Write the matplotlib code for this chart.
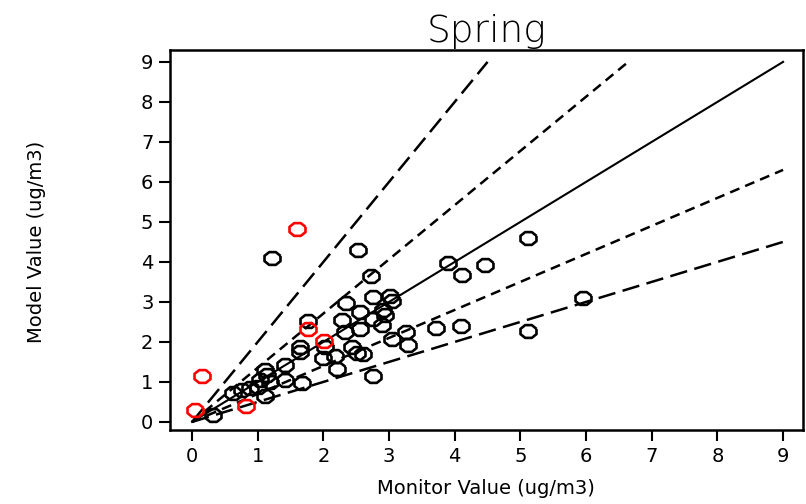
# Spring: model vs monitor scatter with ratio lines
import numpy as np
import matplotlib
matplotlib.use("Agg")
from matplotlib import pyplot as plt

# black points (monitor, model)
mon_black = [1.22, 2.53, 5.11, 3.90, 4.46, 4.11, 2.72, 2.75, 3.02, 3.04, 2.35, 2.56,
             2.91, 2.94, 2.76, 2.28, 2.89, 2.56, 2.33, 1.77, 5.95, 5.11, 3.72, 4.09,
             3.26, 3.04, 3.29, 2.02, 2.00, 2.18, 2.43, 2.51, 2.61, 2.20, 2.75, 1.64,
             1.64, 1.67, 1.42, 1.11, 1.14, 1.04, 1.19, 1.42, 1.01, 0.88, 0.76, 0.63,
             1.11, 0.32]
mod_black = [4.10, 4.30, 4.60, 3.98, 3.93, 3.68, 3.66, 3.12, 3.16, 3.02, 2.97, 2.76,
             2.80, 2.68, 2.57, 2.55, 2.43, 2.32, 2.26, 2.53, 3.10, 2.28, 2.36, 2.40,
             2.26, 2.07, 1.93, 1.87, 1.59, 1.65, 1.87, 1.73, 1.70, 1.32, 1.16, 1.88,
             1.76, 0.97, 1.43, 1.30, 1.18, 1.05, 1.01, 1.05, 0.88, 0.84, 0.80, 0.72,
             0.65, 0.17]

# red points
mon_red = [1.60, 0.15, 0.05, 0.82, 1.76, 2.01]
mod_red = [4.83, 1.16, 0.30, 0.40, 2.33, 2.03]

# ratio lines: slope, dash pattern
slopes = [2.0, 1.355, 1.0, 0.7, 0.5]
dashes = [(7, 3), (4, 2.5), None, (4, 2.5), (7, 3)]

ticks = list(range(10))

fig = plt.figure(figsize=(8.06, 5.04), dpi=100)
ax = fig.add_axes([0.211, 0.147, 0.785, 0.754])

for s, d in zip(slopes, dashes):
    xe = min(9.0, 9.0 / s)
    if d is None:
        ax.plot([0, xe], [0, xe * s], color="black", lw=1.5)
    else:
        ax.plot([0, xe], [0, xe * s], color="black", lw=1.8, dashes=d)

# flattened octagon marker
ang = np.linspace(0, 2 * np.pi, 9)[:-1] + np.pi / 8
oct_verts = list(zip(1.25 * np.cos(ang), np.sin(ang)))
oct_verts.append(oct_verts[0])

ax.plot(mon_black, mod_black, linestyle="none", marker=oct_verts, markersize=11.5,
        markerfacecolor="none", markeredgecolor="black", markeredgewidth=1.9)
ax.plot(mon_red, mod_red, linestyle="none", marker=oct_verts, markersize=11.5,
        markerfacecolor="none", markeredgecolor="red", markeredgewidth=1.9)

ax.set_xlim(-0.335, 9.30)
ax.set_ylim(-0.2, 9.3)
ax.set_xticks(ticks)
ax.set_yticks(ticks)
ax.tick_params(direction="out", length=8, width=1.5, labelsize=14, pad=4)
for sp in ax.spines.values():
    sp.set_linewidth(1.8)

ax.set_title("Spring", fontsize=27, pad=6, fontweight="light")
ax.set_xlabel("Monitor Value (ug/m3)", fontsize=14, labelpad=10)
fig.text(0.045, 0.52, "Model Value (ug/m3)", rotation=90, ha="center", va="center",
         fontsize=14)

fig.savefig("out.png", dpi=100)
